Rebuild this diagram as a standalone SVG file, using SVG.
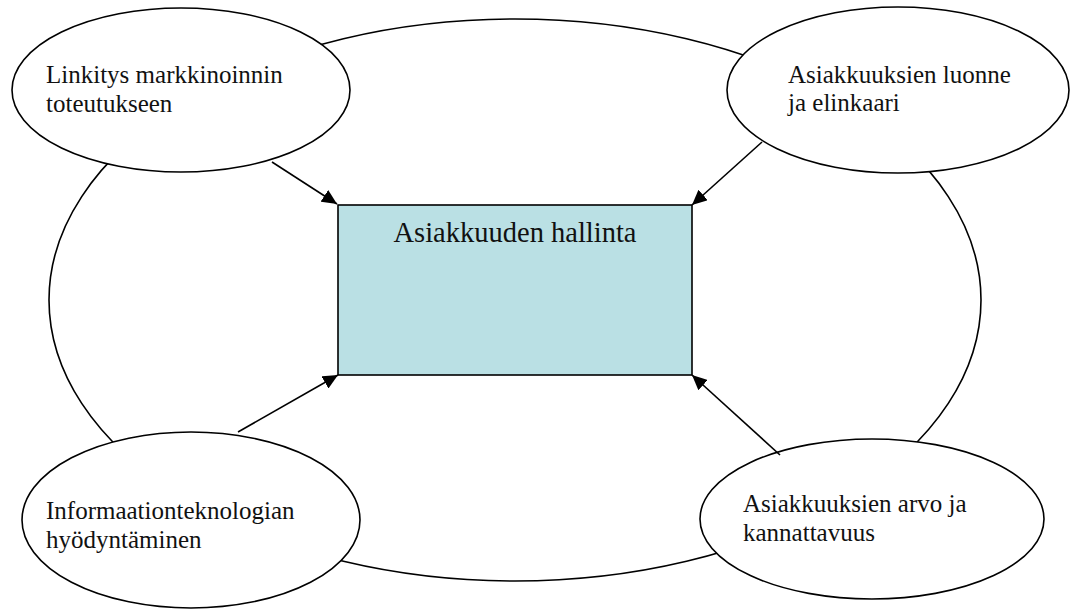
<svg xmlns="http://www.w3.org/2000/svg" width="1072" height="611" viewBox="0 0 1072 611">
<style>
.shape{fill:#fff;stroke:#000;stroke-width:1.6}
.box{fill:#bae0e4;stroke:#000;stroke-width:1.6}
.lbl{font-family:"Liberation Serif","Times New Roman",serif;font-size:25px;fill:#111}
.title{font-family:"Liberation Serif","Times New Roman",serif;font-size:28.5px;fill:#111}
.conn{stroke:#000;stroke-width:1.6;fill:none;marker-end:url(#arr)}
</style>
<defs>
<marker id="arr" markerUnits="userSpaceOnUse" markerWidth="16" markerHeight="14" refX="15" refY="7" orient="auto">
<path d="M0,0 L15,7 L0,14 Z" fill="#000"/>
</marker>
</defs>
<rect width="1072" height="611" fill="#fff"/>
<g id="outer"><ellipse class="shape" cx="515" cy="300" rx="466" ry="281"/></g>
<g id="n-linkitys">
<ellipse class="shape" cx="181" cy="90" rx="169" ry="82"/>
<text class="lbl" x="46" y="83">Linkitys markkinoinnin</text>
<text class="lbl" x="46" y="112">toteutukseen</text>
</g>
<g id="n-luonne">
<ellipse class="shape" cx="898" cy="90" rx="171" ry="83"/>
<text class="lbl" x="788" y="83">Asiakkuuksien luonne</text>
<text class="lbl" x="788" y="111">ja elinkaari</text>
</g>
<g id="n-it">
<ellipse class="shape" cx="191" cy="520" rx="169" ry="88"/>
<text class="lbl" x="46" y="519">Informaationteknologian</text>
<text class="lbl" x="46" y="548">hyödyntäminen</text>
</g>
<g id="n-arvo">
<ellipse class="shape" cx="872" cy="519" rx="172" ry="80"/>
<text class="lbl" x="743" y="512">Asiakkuuksien arvo ja</text>
<text class="lbl" x="743" y="541">kannattavuus</text>
</g>
<g id="connectors">
<line class="conn" x1="272" y1="162" x2="337" y2="204"/>
<line class="conn" x1="762" y1="142" x2="692" y2="205"/>
<line class="conn" x1="238" y1="432" x2="338" y2="375"/>
<line class="conn" x1="780" y1="455" x2="692" y2="375"/>
</g>
<g id="n-hallinta">
<rect class="box" x="338" y="205" width="354" height="170"/>
<text class="title" x="515" y="242" text-anchor="middle">Asiakkuuden hallinta</text>
</g>
</svg>
